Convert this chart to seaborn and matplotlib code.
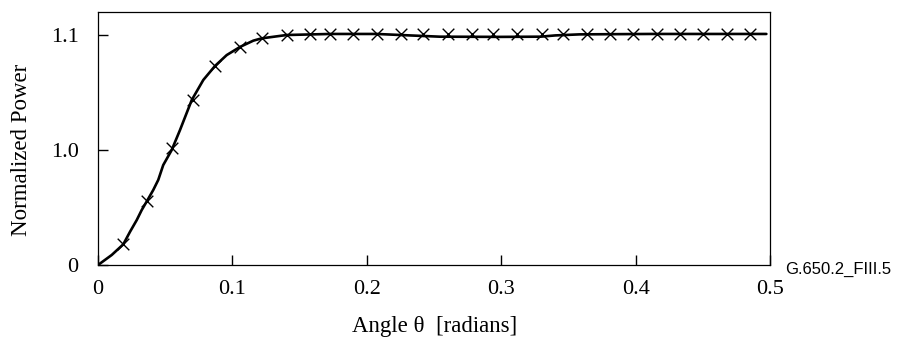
import pandas as pd
import matplotlib
matplotlib.use('Agg')
import matplotlib.pyplot as plt
import seaborn as sns

# curve (angle in radians, power in plot units)
curve_angle = [0, 0.0102, 0.0188, 0.0238, 0.0288, 0.0325, 0.0364, 0.0411, 0.0448,
               0.0485, 0.0548, 0.0610, 0.0697, 0.0783, 0.0870, 0.0957, 0.1056,
               0.1155, 0.1217, 0.1403, 0.1725, 0.2072, 0.232, 0.254, 0.299,
               0.329, 0.340, 0.358, 0.410, 0.497]
curve_power = [0, 0.048, 0.099, 0.159, 0.215, 0.263, 0.306, 0.359, 0.407,
               0.478, 0.550, 0.646, 0.789, 0.885, 0.952, 1.004, 1.043,
               1.073, 1.084, 1.100, 1.105, 1.105, 1.098, 1.092, 1.091,
               1.092, 1.098, 1.103, 1.105, 1.105]

# measured points (x markers)
meas_angle = [0.0188, 0.0366, 0.0548, 0.0709, 0.0870, 0.1056, 0.1217, 0.1403,
              0.1576, 0.1725, 0.1898, 0.2072, 0.2250, 0.2419, 0.2604, 0.2778,
              0.2939, 0.3113, 0.3299, 0.3460, 0.3634, 0.3807, 0.3981, 0.4154,
              0.4327, 0.4501, 0.4675, 0.4848]
meas_power = [0.099, 0.306, 0.558, 0.789, 0.952, 1.041, 1.084, 1.100,
              1.105, 1.105, 1.105, 1.105, 1.105, 1.103, 1.103, 1.103,
              1.103, 1.103, 1.103, 1.103, 1.105, 1.105, 1.105, 1.105,
              1.105, 1.105, 1.105, 1.105]

x_ticks = [0, 0.1, 0.2, 0.3, 0.4, 0.5]
x_labels = ['0', '0.1', '0.2', '0.3', '0.4', '0.5']
y_ticks = [0, 0.55, 1.1]
y_labels = ['0', '1.0', '1.1']

sns.set_style('white')
plt.rcParams['font.family'] = ['Liberation Serif', 'DejaVu Serif']
plt.rcParams['text.color'] = 'black'
plt.rcParams['axes.labelcolor'] = 'black'

curve = pd.DataFrame({'angle': curve_angle, 'power': curve_power})
meas = pd.DataFrame({'angle': meas_angle, 'power': meas_power})

fig = plt.figure(figsize=(9, 3.42), dpi=100)
ax = fig.add_axes([0.1089, 0.2251, 0.856 - 0.1089, 0.9649 - 0.2251])

sns.lineplot(data=curve, x='angle', y='power', color='black', linewidth=1.9, ax=ax)
sns.scatterplot(data=meas, x='angle', y='power', marker='x', color='black',
                s=70, linewidth=1.0, ax=ax)

ax.set_xlim(0, 0.5)
ax.set_ylim(0, 1.21)
ax.set_xticks(x_ticks)
ax.set_xticklabels(x_labels)
ax.set_yticks(y_ticks)
ax.set_yticklabels(y_labels)
ax.tick_params(axis='both', direction='in', length=7, width=1, colors='black',
               labelsize=16, left=True, bottom=True)
ax.tick_params(axis='x', pad=11)
ax.tick_params(axis='y', pad=14)
for s in ax.spines.values():
    s.set_color('black')
    s.set_linewidth(0.9)

ax.set_xlabel('Angle θ  [radians]', fontsize=16.5, labelpad=12)
ax.set_ylabel('Normalized Power', fontsize=16.5)
ax.yaxis.set_label_coords(-0.098, 0.455)

fig.text(0.872, 0.212, 'G.650.2_FIII.5', fontsize=12, va='center',
         family=['Liberation Sans', 'DejaVu Sans'])

fig.savefig('out.png', dpi=100)
